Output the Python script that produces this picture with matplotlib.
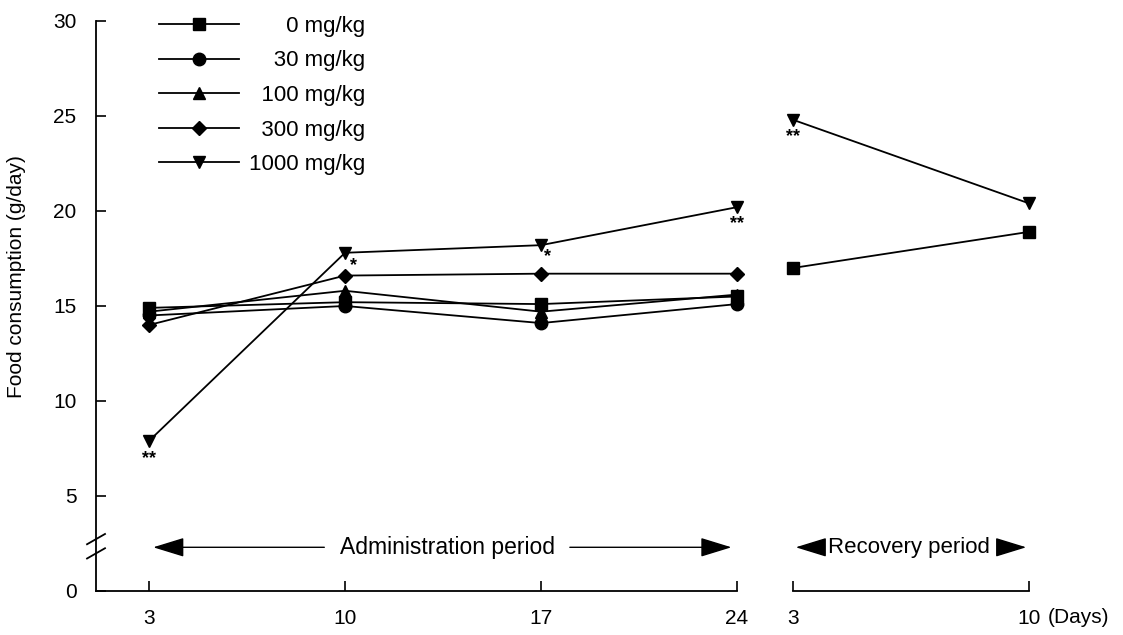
import matplotlib
matplotlib.use("Agg")
import matplotlib.pyplot as plt

plt.rcParams['font.family'] = ['Liberation Sans', 'DejaVu Sans']

# administration period (days) and recovery period (days)
admin_days = [3, 10, 17, 24]
recov_days = [3, 10]

doses = ['0 mg/kg', '30 mg/kg', '100 mg/kg', '300 mg/kg', '1000 mg/kg']
markers = ['s', 'o', '^', 'D', 'v']
admin_vals = [
    [14.9, 15.2, 15.1, 15.5],
    [14.5, 15.0, 14.1, 15.1],
    [14.7, 15.8, 14.7, 15.6],
    [14.0, 16.6, 16.7, 16.7],
    [7.9, 17.8, 18.2, 20.2],
]
recov_0 = [17.0, 18.9]
recov_1000 = [24.8, 20.4]

# significance marks: (dose index, day index, label, dx, dy in points)
admin_stars = [(4, 0, '**', 0, -13), (4, 1, '*', 6, -9), (4, 2, '*', 5, -8), (4, 3, '**', 0, -12)]
recov_stars = [(0, '**', 0, -12)]

fig = plt.figure(figsize=(11.23, 6.35), dpi=100)
ax = fig.add_axes([0.0855, 0.0693, 0.5708, 0.8977])
ax2 = fig.add_axes([0.7061, 0.0693, 0.2102, 0.8977])

for vals, m, lab in zip(admin_vals, markers, doses):
    ms = 7 if m == 'D' else 9
    ax.plot(admin_days, vals, color='black', marker=m, markersize=ms, linewidth=1.3,
            label=lab, clip_on=False)

ax2.plot(recov_days, recov_0, color='black', marker='s', markersize=9, linewidth=1.3, clip_on=False)
ax2.plot(recov_days, recov_1000, color='black', marker='v', markersize=9, linewidth=1.3, clip_on=False)

for d, i, s, dx, dy in admin_stars:
    ax.annotate(s, (admin_days[i], admin_vals[d][i]), xytext=(dx, dy), textcoords='offset points',
                ha='center', va='center', fontsize=13, fontweight='bold')
for i, s, dx, dy in recov_stars:
    ax2.annotate(s, (recov_days[i], recov_1000[i]), xytext=(dx, dy), textcoords='offset points',
                 ha='center', va='center', fontsize=13, fontweight='bold')

for a in (ax, ax2):
    a.set_ylim(0, 30)
    a.spines['top'].set_visible(False)
    a.spines['right'].set_visible(False)
    a.tick_params(direction='in', length=7, width=1.2, labelsize=15, pad=13)
    a.spines['bottom'].set_linewidth(1.3)
    a.spines['left'].set_linewidth(1.3)

ax.set_xlim(1.107, 24)
ax.set_xticks(admin_days)
ax.set_yticks([0, 5, 10, 15, 20, 25, 30])
ax.tick_params(axis='y', pad=14)
ax.set_ylabel('Food consumption (g/day)', fontsize=15)
ax.yaxis.set_label_coords(-0.110, 0.551)

ax2.set_xlim(3, 10)
ax2.set_xticks(recov_days)
ax2.spines['left'].set_visible(False)
ax2.set_yticks([])
ax2.text(1.21, -0.047, '(Days)', transform=ax2.transAxes, ha='center', va='center', fontsize=15)

# y-axis break marks
for yb in (0.091, 0.066):
    ax.plot([-0.014, 0.014], [yb - 0.009, yb + 0.009], transform=ax.transAxes,
            color='black', linewidth=1.3, clip_on=False)

# period arrows
arrow = dict(arrowstyle='-|>,head_length=0.65,head_width=0.2', color='black',
             linewidth=1.0, mutation_scale=30)
ax.text(13.66, 2.3, 'Administration period', ha='center', va='center', fontsize=16.5)
ax.annotate('', xy=(3.05, 2.3), xytext=(9.36, 2.3), arrowprops=arrow)
ax.annotate('', xy=(23.9, 2.3), xytext=(17.93, 2.3), arrowprops=arrow)
ax2.text(6.44, 2.3, 'Recovery period', ha='center', va='center', fontsize=16)
ax2.annotate('', xy=(3.0, 2.3), xytext=(3.95, 2.3), arrowprops=arrow)
ax2.annotate('', xy=(10.0, 2.3), xytext=(9.0, 2.3), arrowprops=arrow)

# legend, labels right-aligned with figure spaces
handles, labels = ax.get_legend_handles_labels()
width = max(len(l) for l in labels)
labels = ['\u2007' * (width - len(l)) + l for l in labels]
leg = ax.legend(handles, labels, loc='upper left', bbox_to_anchor=(0.071, 1.04), frameon=False,
                fontsize=16, handlelength=3.6, labelspacing=0.61, handletextpad=0.45,
                borderpad=0.3)

fig.savefig('out.png', dpi=100)
